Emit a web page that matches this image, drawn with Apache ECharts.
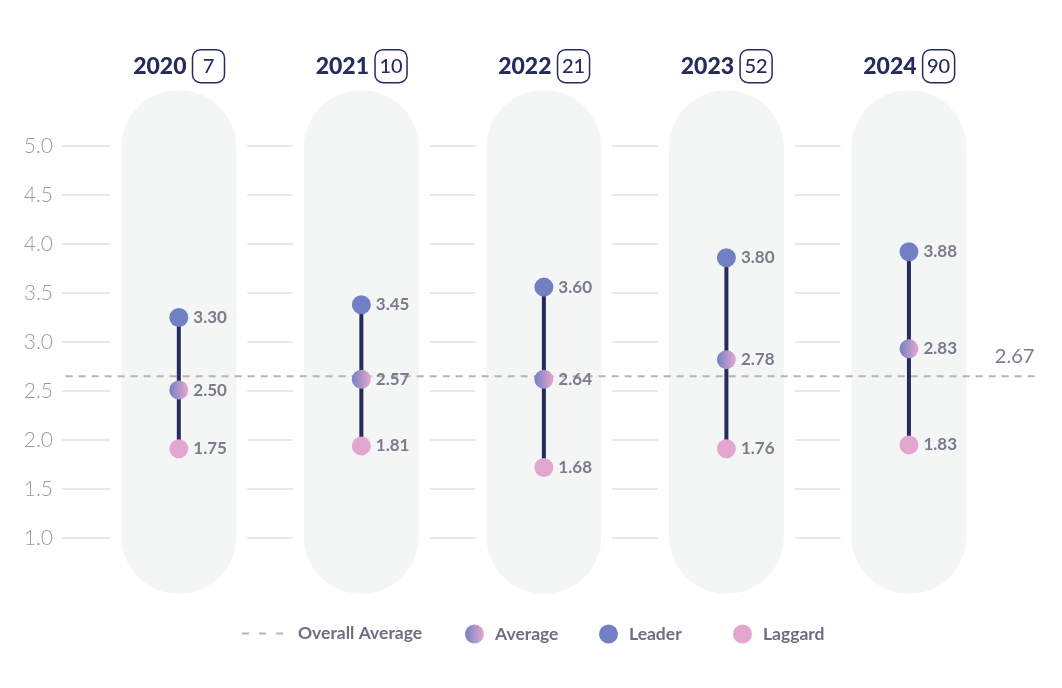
<!DOCTYPE html>
<html><head><meta charset="utf-8">
<script src="https://cdn.jsdelivr.net/npm/echarts@6/dist/echarts.min.js"></script>
<style>html,body{margin:0;padding:0;background:#fff}#c{width:1062px;height:688px}</style>
</head><body><div id="c"></div>
<script>
const years = ['2020', '2021', '2022', '2023', '2024'];
const counts = ['7', '10', '21', '52', '90'];
const leaderValues = [3.25, 3.38, 3.56, 3.86, 3.92];
const averageValues = [2.51, 2.62, 2.62, 2.82, 2.93];
const laggardValues = [1.91, 1.94, 1.72, 1.91, 1.95];
const leaderLabels = ['3.30', '3.45', '3.60', '3.80', '3.88'];
const averageLabels = ['2.50', '2.57', '2.64', '2.78', '2.83'];
const laggardLabels = ['1.75', '1.81', '1.68', '1.76', '1.83'];
const overallAverageValue = 2.65;
const overallAverageLabel = '2.67';

const NAVY = '#262a5c';
const FONT = 'Lato';
const X_MIN = -0.64, X_MAX = 4.225, X_LINE_START = -0.62, X_LINE_END = 4.72;
const DASH_GRAY = '#b5b5b8';

const chart = echarts.init(document.getElementById('c'), null, {renderer: 'canvas'});

const labelStyle = {fontFamily: FONT, fontSize: 17, fontWeight: 'bold', color: '#7b7b8c'};
const legendText = {fontFamily: FONT, fontSize: 17.5, fontWeight: 'bold', color: '#6e6e80'};

function pointSeries(name, values, labels, color) {
  return {
    name: name, type: 'scatter', z: 5,
    symbolSize: 19,
    itemStyle: {color: color, opacity: 1},
    data: values.map((v, i) => [i, v]),
    label: Object.assign({show: true, position: 'right', distance: 5,
      formatter: p => labels[p.dataIndex]}, labelStyle),
    emphasis: {disabled: true}
  };
}

function legendItem(name, left, extra) {
  return Object.assign({
    data: [name], left: left, top: 624.5, padding: 0,
    itemWidth: 19, itemHeight: 19, icon: 'circle',
    textStyle: Object.assign({padding: [0, 0, 0, 6]}, legendText),
    selectedMode: false
  }, extra || {});
}

const avgGradient = new echarts.graphic.LinearGradient(0, 0, 1, 0, [
  {offset: 0, color: '#7480c4'}, {offset: 1, color: '#e6a7cf'}
]);

const option = {
  animation: false,
  backgroundColor: '#fff',
  grid: {left: 62, right: 112, top: 146, bottom: 150},
  xAxis: {type: 'value', min: X_MIN, max: X_MAX, show: false},
  yAxis: {
    type: 'value', min: 1, max: 5, interval: 0.5,
    axisLine: {show: false}, axisTick: {show: false},
    axisLabel: {formatter: v => v.toFixed(1), fontFamily: FONT, fontSize: 21, fontWeight: 300, color: '#9b9b9f', margin: 9},
    splitLine: {lineStyle: {color: '#e2e2e2', width: 1.5}}
  },
  legend: [
    legendItem('Overall Average', 242, {
      itemWidth: 41, itemHeight: 19,
      icon: 'path://M0,0H7V2H0Z M17,0H24V2H17Z M34,0H41V2H34Z',
      itemStyle: {color: DASH_GRAY},
      textStyle: Object.assign({padding: [0, 0, 0, 10]}, legendText)
    }),
    legendItem('Average', 465),
    legendItem('Leader', 599),
    legendItem('Laggard', 733)
  ],
  series: [
    {
      name: 'pills', type: 'custom', z: 1, silent: true,
      data: years.map((y, i) => [i]),
      renderItem: function (params, api) {
        const i = api.value(0);
        const x = api.coord([i, 0])[0];
        const top = api.coord([0, 5.57])[1];
        const bot = api.coord([0, 0.43])[1];
        const w = 115, pad = 11;
        return {
          type: 'group',
          children: [
            {type: 'rect', shape: {x: x - w / 2 - pad, y: top - pad, width: w + 2 * pad, height: bot - top + 2 * pad, r: w / 2 + pad}, style: {fill: '#ffffff'}},
            {type: 'rect', shape: {x: x - w / 2, y: top, width: w, height: bot - top, r: w / 2}, style: {fill: '#f4f5f5'}},
            {type: 'text', x: x, y: top - 24, style: {
              text: '{y|' + years[i] + '}{b|' + counts[i] + '}',
              align: 'center', verticalAlign: 'middle',
              rich: {
                y: {fontFamily: FONT, fontSize: 23, fontWeight: 900, fill: NAVY, padding: [0, 6, 0, 0]},
                b: {fontFamily: FONT, fontSize: 20, fontWeight: 500, fill: NAVY, borderColor: NAVY, borderWidth: 1.5, borderRadius: 8,
                    width: 28, height: 29, lineHeight: 29, align: 'center', padding: [2, 2, 2, 2]}
              }
            }}
          ]
        };
      }
    },
    {
      name: 'Overall Average', type: 'custom', z: 2, silent: true,
      itemStyle: {color: DASH_GRAY},
      data: [[overallAverageValue]],
      renderItem: function (params, api) {
        const v = api.value(0);
        const a = api.coord([X_LINE_START, v]);
        const b = api.coord([X_LINE_END, v]);
        return {
          type: 'group',
          children: [
            {type: 'line', shape: {x1: a[0], y1: a[1], x2: b[0], y2: b[1]}, style: {stroke: DASH_GRAY, lineWidth: 2, lineDash: [7, 6]}},
            {type: 'text', x: b[0] - 6, y: a[1] - 20, style: {text: overallAverageLabel, fontFamily: FONT, fontSize: 20, fill: '#7c7c8a', align: 'right', verticalAlign: 'middle'}}
          ]
        };
      }
    },
    {
      name: 'dumbbell', type: 'custom', z: 3, silent: true,
      data: leaderValues.map((v, i) => [i, v, laggardValues[i]]),
      encode: {x: 0, y: [1, 2]},
      renderItem: function (params, api) {
        const a = api.coord([api.value(0), api.value(1)]);
        const b = api.coord([api.value(0), api.value(2)]);
        return {type: 'line', shape: {x1: a[0], y1: a[1], x2: b[0], y2: b[1]}, style: {stroke: NAVY, lineWidth: 4}};
      }
    },
    pointSeries('Leader', leaderValues, leaderLabels, '#7080c2'),
    pointSeries('Laggard', laggardValues, laggardLabels, '#e3a7cf'),
    pointSeries('Average', averageValues, averageLabels, avgGradient)
  ]
};
chart.setOption(option);
</script>
</body></html>
